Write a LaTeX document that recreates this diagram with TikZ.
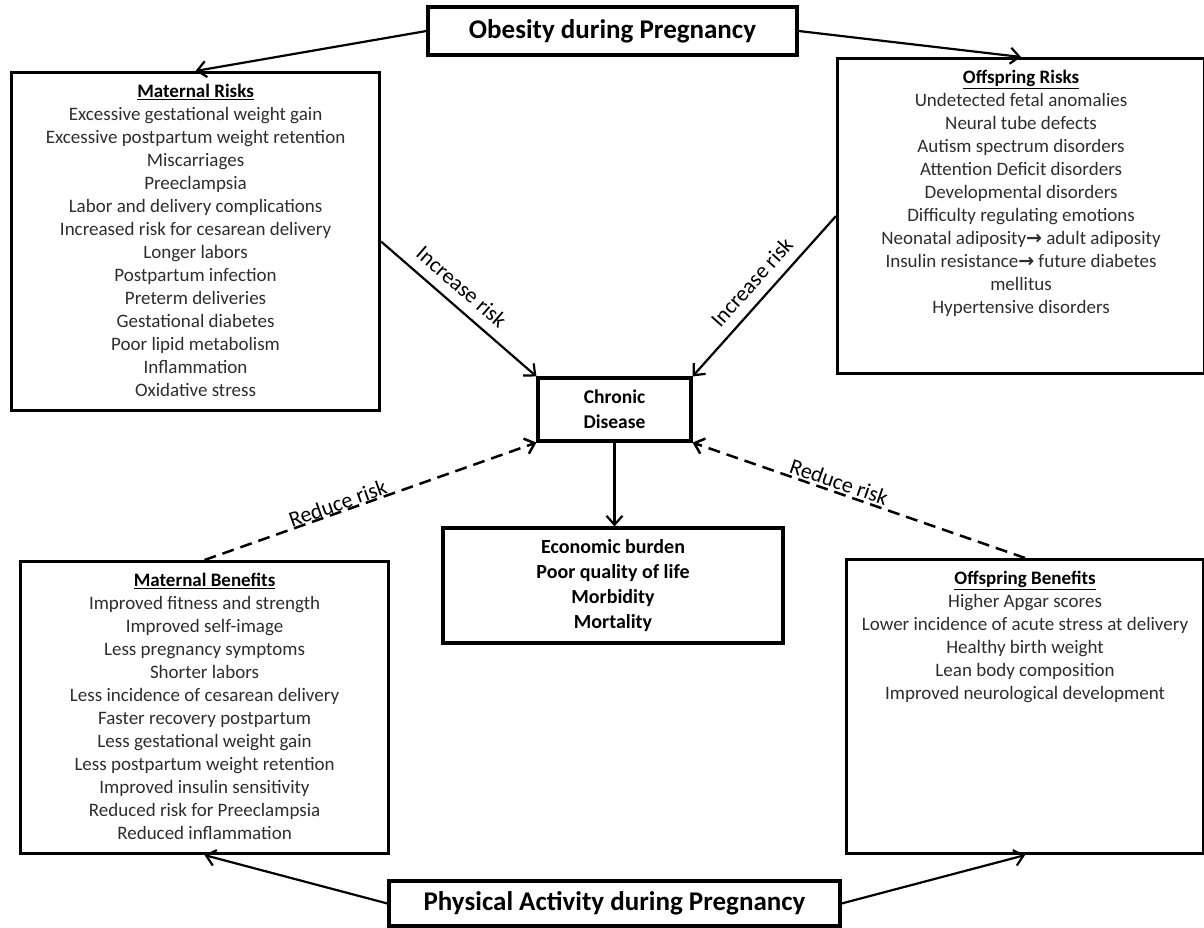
\documentclass[tikz,border=0pt]{standalone}
\usepackage{fontspec}
\setmainfont{Carlito}
\newfontfamily\arrowfont{DejaVu Sans}
\usepackage{xcolor}
\usetikzlibrary{arrows.meta}

\definecolor{listgray}{RGB}{45,45,45}
\newcommand{\listbox}[3]{\parbox[c][#2][t]{#1}{\centering\fontsize{19}{23}\selectfont\color{listgray}#3}}
\newcommand{\listhead}[1]{\rule{0pt}{25pt}{\color{black}\underline{\textbf{#1}}}}
\newcommand{\thento}{{\arrowfont\bfseries\fontsize{19}{23}\selectfont →}}

\tikzset{
  box/.style={draw, line width=3.1pt, inner sep=0pt},
  conn/.style={line width=2.2pt, -{Straight Barb[length=9pt,width=16pt]}},
  dashconn/.style={conn, line width=2.5pt, dash pattern=on 12pt off 7pt},
  lbl/.style={sloped, anchor=south, font=\fontsize{22}{26}\selectfont, inner xsep=0pt},
}

\begin{document}
\begin{tikzpicture}[x=1pt,y=-1pt]
  \useasboundingbox (0,0) rectangle (1204,928);
  \node[box, minimum width=369pt, minimum height=48pt,
    font=\fontsize{27}{32}\selectfont\bfseries] (obesity) at (612.5,31) {Obesity during Pregnancy};
  \node[box, anchor=north west] (mrisk) at (10,71) {\listbox{368pt}{338pt}{%
    \listhead{Maternal Risks}\\
    Excessive gestational weight gain\\
    Excessive postpartum weight retention\\
    Miscarriages\\
    Preeclampsia\\
    Labor and delivery  complications\\
    Increased risk for cesarean delivery\\
    Longer labors\\
    Postpartum infection\\
    Preterm deliveries\\
    Gestational diabetes\\
    Poor lipid metabolism\\
    Inflammation\\
    Oxidative stress}};
  \node[box, anchor=north west] (orisk) at (836,57) {\listbox{367pt}{315pt}{%
    \listhead{Offspring Risks}\\
    Undetected fetal anomalies\\
    Neural tube defects\\
    Autism spectrum disorders\\
    Attention Deficit disorders\\
    Developmental disorders\\
    Difficulty regulating emotions\\
    Neonatal adiposity\thento{} adult adiposity\\
    Insulin resistance\thento{} future diabetes\\
    mellitus\\
    Hypertensive disorders}};
  \node[box, minimum width=153pt, minimum height=63pt, align=center,
    font=\fontsize{19.5}{25}\selectfont\bfseries] (chronic) at (614.5,409.5) {Chronic\\Disease};
  \node[box, minimum width=340pt, minimum height=115pt, align=center,
    font=\fontsize{20}{25}\selectfont\bfseries] (econ) at (613,585.5)
    {Economic burden\\Poor quality of life\\Morbidity\\Mortality};
  \node[box, anchor=north west] (mben) at (19,560) {\listbox{368pt}{292pt}{%
    \listhead{Maternal Benefits}\\
    Improved fitness and strength\\
    Improved self-image\\
    Less pregnancy symptoms\\
    Shorter labors\\
    Less incidence of cesarean delivery\\
    Faster recovery postpartum\\
    Less gestational weight gain\\
    Less postpartum weight retention\\
    Improved insulin sensitivity\\
    Reduced risk for Preeclampsia\\
    Reduced inflammation}};
  \node[box, anchor=north west] (oben) at (845,558) {\listbox{357pt}{294pt}{%
    \listhead{Offspring  Benefits}\\
    Higher Apgar scores\\
    Lower incidence of acute stress at delivery\\
    Healthy birth weight\\
    Lean body composition\\
    Improved neurological development}};
  \node[box, minimum width=451pt, minimum height=45pt,
    font=\fontsize{27}{32}\selectfont\bfseries] (phys) at (614.5,903.5) {Physical Activity during Pregnancy};

  \draw[conn] (obesity.west) -- (mrisk.north);
  \draw[conn] (obesity.east) -- (orisk.north);
  \draw[conn] (mrisk.east) -- node[lbl, pos=0.44, inner ysep=10pt] (incmat) {Increase risk} (chronic.north west);
  \draw[conn] (orisk.west) -- node[lbl, pos=0.49, inner ysep=10pt] (incoff) {Increase risk} (chronic.north east);
  \draw[conn] (chronic.south) -- (chronic.south |- econ.north);
  \draw[dashconn] (mben.north) -- node[lbl, pos=0.41, inner ysep=0pt] (redmat) {Reduce risk} (chronic.south west);
  \draw[dashconn] (oben.north) -- node[lbl, pos=0.57, inner ysep=2pt] (redoff) {Reduce risk} (chronic.south east);
  \draw[conn] (phys.west) -- (mben.south);
  \draw[conn] (phys.east) -- (oben.south);
\end{tikzpicture}
\end{document}
